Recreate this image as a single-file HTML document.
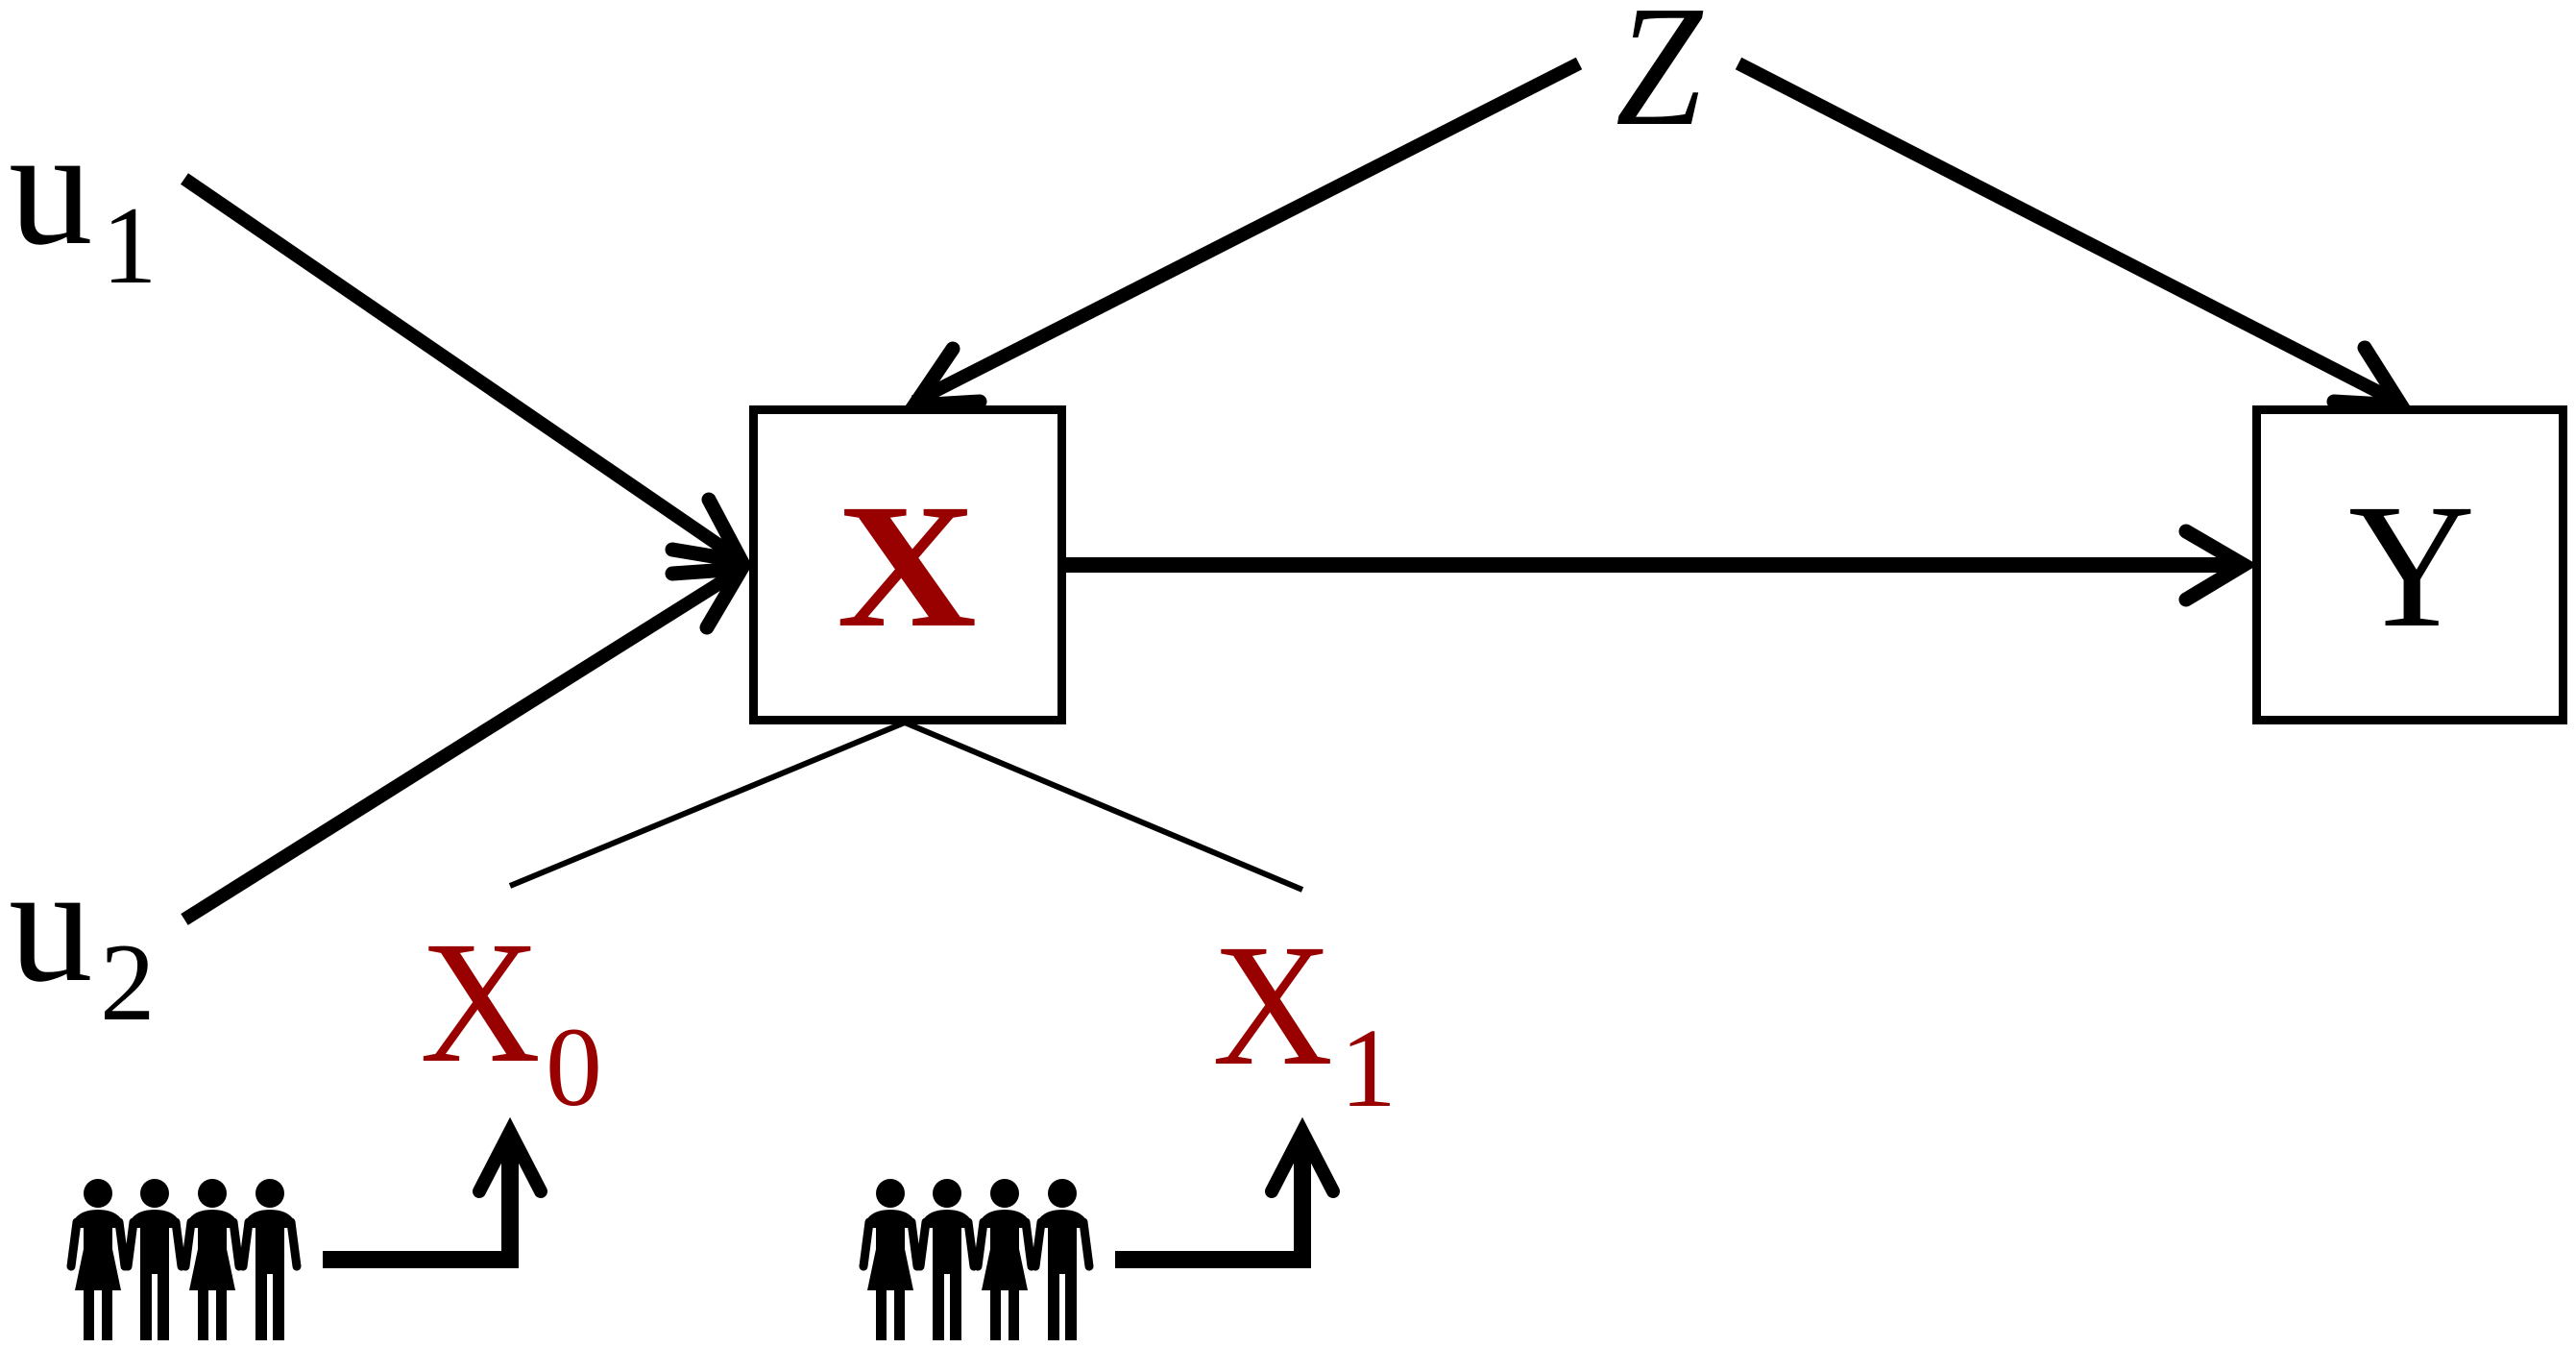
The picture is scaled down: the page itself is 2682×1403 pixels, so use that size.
<!DOCTYPE html>
<html><head><meta charset="utf-8"><style>
html,body{margin:0;padding:0;background:#fff;}
svg{display:block;}
text{font-family:"Liberation Serif",serif;}
</style></head><body>
<svg width="2682" height="1403" viewBox="0 0 2682 1403" xmlns="http://www.w3.org/2000/svg">
<defs>
<g id="man">
<ellipse cx="0" cy="1242" rx="15" ry="15"/>
<path d="M -26 1272 Q -20 1259 0 1259 Q 20 1259 26 1272 L 26 1278 L -26 1278 Z"/>
<line x1="-22" y1="1272" x2="-28" y2="1318" stroke="#000" stroke-width="9" stroke-linecap="round"/>
<line x1="22" y1="1272" x2="28" y2="1318" stroke="#000" stroke-width="9" stroke-linecap="round"/>
<rect x="-15" y="1262" width="30" height="64"/>
<rect x="-15" y="1326" width="12" height="69"/>
<rect x="3" y="1326" width="12" height="69"/>
</g>
<g id="woman">
<ellipse cx="0" cy="1242" rx="15" ry="15"/>
<path d="M -26 1272 Q -20 1259 0 1259 Q 20 1259 26 1272 L 26 1278 L -26 1278 Z"/>
<line x1="-22" y1="1272" x2="-28" y2="1318" stroke="#000" stroke-width="9" stroke-linecap="round"/>
<line x1="22" y1="1272" x2="28" y2="1318" stroke="#000" stroke-width="9" stroke-linecap="round"/>
<rect x="-15" y="1262" width="30" height="40"/>
<polygon points="-15,1300 15,1300 24,1343 -24,1343"/>
<rect x="-15" y="1343" width="11" height="52"/>
<rect x="4" y="1343" width="11" height="52"/>
</g>
<g id="group">
<use href="#woman" x="102"/>
<use href="#man" x="161"/>
<use href="#woman" x="221"/>
<use href="#man" x="281"/>
<path d="M336 1311 L531 1311 L531 1180" fill="none" stroke="#000" stroke-width="18"/>
<path d="M499 1240 L531 1178 L563 1240" fill="none" stroke="#000" stroke-width="14" stroke-linecap="round" stroke-linejoin="miter"/>
</g>
</defs>

<rect x="784.5" y="426.5" width="321" height="323" fill="none" stroke="#000" stroke-width="9"/>
<rect x="2349.5" y="426.5" width="319" height="323" fill="none" stroke="#000" stroke-width="9"/>

<g stroke="#000" fill="none" stroke-linecap="butt">
<line x1="192" y1="186" x2="770" y2="582" stroke-width="14"/>
<path d="M738 520 L772 584 L700 572" stroke-width="15" stroke-linecap="round"/>
<line x1="192" y1="957" x2="770" y2="594" stroke-width="14"/>
<path d="M700 597 L772 592 L736 653" stroke-width="15" stroke-linecap="round"/>
<line x1="1644" y1="66" x2="952" y2="418" stroke-width="14"/>
<path d="M992 363 L952 422 L1020 418" stroke-width="15" stroke-linecap="round"/>
<line x1="1810" y1="66" x2="2496" y2="418" stroke-width="14"/>
<path d="M2462 362 L2500 422 L2430 418" stroke-width="15" stroke-linecap="round"/>
<line x1="1110" y1="588" x2="2330" y2="588" stroke-width="16"/>
<path d="M2276 553 L2336 588 L2276 624" stroke-width="15" stroke-linecap="round"/>
<line x1="942" y1="752" x2="531" y2="922" stroke-width="6"/>
<line x1="942" y1="752" x2="1356" y2="926" stroke-width="6"/>
</g>

<use href="#group"/>
<use href="#group" x="825"/>

<text x="9" y="253" font-size="175">u</text>
<text x="106" y="294" font-size="115">1</text>
<text x="9" y="1020" font-size="175">u</text>
<text x="104" y="1061" font-size="115">2</text>
<text x="1682" y="129" font-size="180" font-style="italic" textLength="90" lengthAdjust="spacingAndGlyphs">Z</text>
<text x="871" y="651" font-size="185" font-weight="bold" fill="#990000" textLength="146" lengthAdjust="spacingAndGlyphs">X</text>
<text x="2445" y="651" font-size="185" textLength="132" lengthAdjust="spacingAndGlyphs">Y</text>
<text x="437" y="1104" font-size="182" fill="#990000" textLength="126" lengthAdjust="spacingAndGlyphs">X</text>
<text x="568" y="1150" font-size="118" fill="#990000">0</text>
<text x="1262" y="1107" font-size="182" fill="#990000" textLength="126" lengthAdjust="spacingAndGlyphs">X</text>
<text x="1395" y="1151" font-size="118" fill="#990000">1</text>
</svg>
</body></html>
